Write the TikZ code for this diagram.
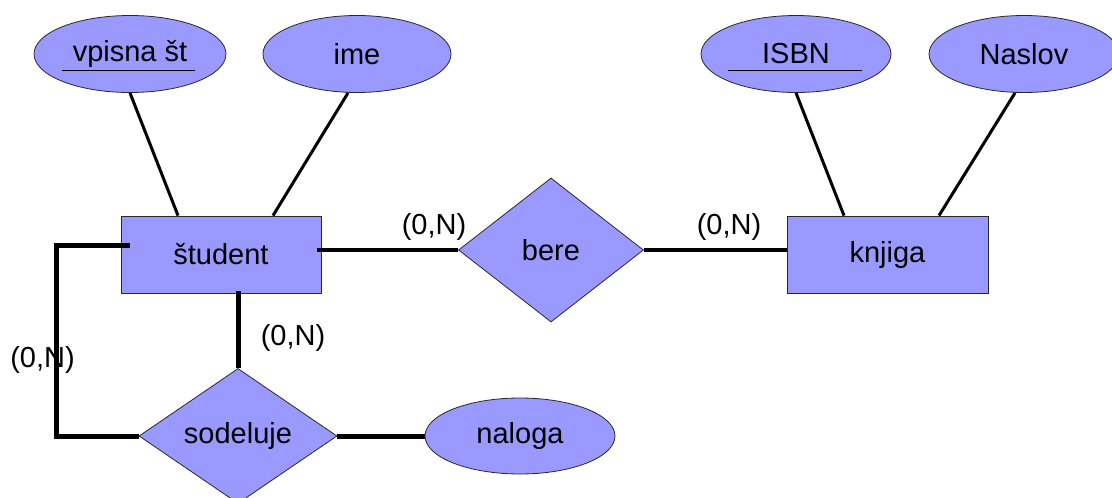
\documentclass[tikz,border=0pt]{standalone}
\usepackage{fontspec}
\setmainfont{Liberation Sans}
\usetikzlibrary{shapes.geometric}

\definecolor{erfill}{RGB}{153,153,255}
\definecolor{eredge}{RGB}{40,40,40}

\tikzset{
  base/.style={fill=erfill, draw=eredge, line width=0.8pt, inner sep=0pt,
               font=\fontsize{29}{34}\selectfont, text=black},
  entity/.style={base, rectangle, minimum width=200pt, minimum height=77pt},
  attr/.style={base, ellipse, minimum width=192pt, minimum height=77pt},
  rel/.style={base, diamond},
  card/.style={font=\fontsize{29}{34}\selectfont, text=black, inner sep=0pt},
  attrline/.style={line width=3pt, black},
  relline/.style={line width=4pt, black},
  heavyline/.style={line width=5pt, black},
  keyline/.style={line width=1pt, black},
}

\begin{document}
\begin{tikzpicture}[x=1pt,y=-1pt]
  \fill[white] (0,0) rectangle (1112,498);
  \useasboundingbox (0,0) rectangle (1112,498);
  \clip (0,0) rectangle (1112,498);

  % entities
  \node[entity] (student) at (221,254.5) {študent};
  \node[entity, minimum width=201pt] (knjiga) at (887.5,254.5) {knjiga};

  % attributes
  \node[attr] (vpisna) at (130,54) {vpisna št};
  \node[attr, minimum width=188pt] (ime) at (357,54) {ime};
  \node[attr, minimum width=190pt] (isbn) at (796,54) {ISBN};
  \node[attr, minimum width=190pt] (naslov) at (1024,54) {Naslov};
  \node[attr, minimum width=190pt, minimum height=76pt] (naloga) at (520,436) {naloga};

  % key underlines
  \draw[keyline] ([xshift=-68pt,yshift=-16pt]vpisna.center) -- ++(133,0);
  \draw[keyline] ([xshift=-68pt,yshift=-16pt]isbn.center) -- ++(134,0);

  % relationships
  \node[rel, minimum width=185pt, minimum height=144pt] (bere) at (551,250) {bere};
  \node[rel, minimum width=198pt, minimum height=128pt] (sodeluje) at (238,436) {sodeluje};

  % attribute links
  \draw[attrline] (vpisna.south) -- ([xshift=-43pt]student.north);
  \draw[attrline] ([xshift=-9pt]ime.south) -- ([xshift=52pt]student.north);
  \draw[attrline] (isbn.south) -- ([xshift=-43.5pt]knjiga.north);
  \draw[attrline] ([xshift=-9pt]naslov.south) -- ([xshift=51.5pt]knjiga.north);

  % relationship links
  \draw[relline] ([xshift=-4pt]student.east |- bere.west) -- (bere.west);
  \draw[relline] (bere.east) -- (bere.east -| knjiga.west);
  \draw[heavyline] ([yshift=2pt]sodeluje.north |- student.south) -- (sodeluje.north);
  \draw[heavyline] (sodeluje.east) -- (naloga.west);
  \draw[heavyline] ([xshift=9pt,yshift=9.5pt]student.west) -- ++(-73,0) |- (sodeluje.west);

  % cardinalities
  \node[card] (c1) at (434,227) {(0,N)};
  \node[card] (c2) at (729,227) {(0,N)};
  \node[card] (c3) at (293,338) {(0,N)};
  \node[card] (c4) at (42.5,360) {(0,N)};
\end{tikzpicture}
\end{document}
